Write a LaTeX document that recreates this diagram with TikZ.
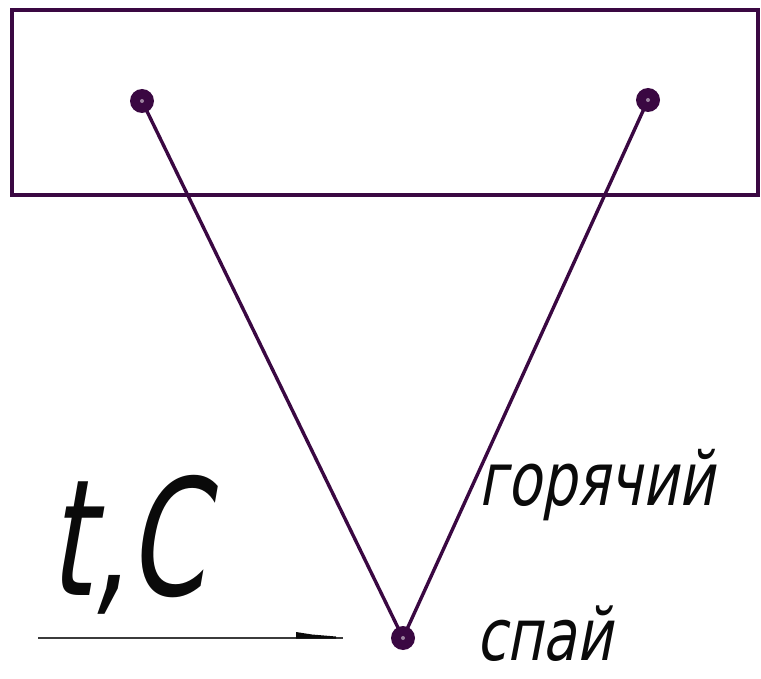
\documentclass[tikz,border=0pt]{standalone}
\usepackage{fontspec}
\newfontfamily\gost[FakeSlant=0.25]{DejaVu Sans}
\definecolor{plum}{RGB}{58,8,66}
\definecolor{ink}{RGB}{10,10,10}
\tikzset{
  wire/.style={draw=plum, line width=3.4pt},
  junction/.style={circle, fill=plum, inner sep=0pt, minimum size=24pt},
  label/.style={inner sep=0pt, text=ink, font=\gost},
}
\begin{document}
\begin{tikzpicture}[x=1pt,y=-1pt]
\useasboundingbox (0,0) rectangle (761,679);
\draw[wire] (12,10) rectangle (758,195);
\node[junction] (L) at (142,101) {};
\node[junction] (R) at (648,100) {};
\node[junction] (B) at (403,638) {};
\draw[wire] (L.center) -- (B.center);
\draw[wire] (R.center) -- (B.center);
\fill[white,opacity=0.5] (L.center) circle (2pt) (R.center) circle (2pt) (B.center) circle (2pt);
\node[label, anchor=base west, font=\gost\fontsize{74pt}{80pt}\selectfont] (hot) at (478,505) {\scalebox{0.75}[1]{горячий}};
\node[label, anchor=base west, font=\gost\fontsize{72pt}{78pt}\selectfont] (junc) at (476,660) {\scalebox{0.77}[1]{спай}};
\node[label, anchor=base west, font=\gost\fontsize{162pt}{170pt}\selectfont] (tc) at (48,595) {\scalebox{0.69}[1]{t,C}};
\coordinate (a0) at (38,638);
\coordinate (a1) at (343,638);
\draw[draw=ink!80, line width=1.6pt] (a0) -- (a1);
\fill[ink] (296,632) -- (312,634.5) -- (336,636.5) -- (336,638.5) -- (296,638.5) -- cycle;
\end{tikzpicture}
\end{document}
